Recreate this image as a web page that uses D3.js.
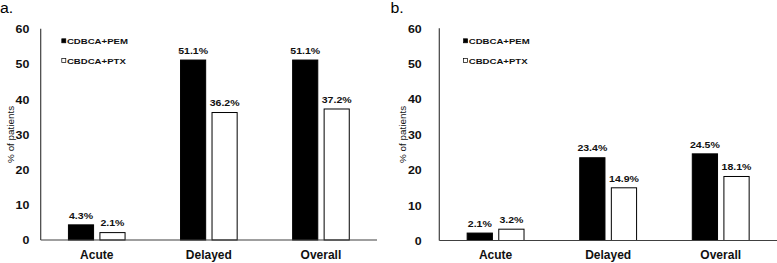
<!DOCTYPE html>
<html>
<head>
<meta charset="utf-8">
<script src="https://cdn.jsdelivr.net/npm/d3@7"></script>
<style>
  body { margin: 0; background: #fff; }
  svg { display: block; font-family: "Liberation Sans", Arial, sans-serif; }
</style>
</head>
<body>
<div id="chart"></div>
<script>
// data
const categories = ["Acute", "Delayed", "Overall"];
const seriesNames = ["CDBCA+PEM", "CBDCA+PTX"];
const panelLetters = ["a.", "b."];
const panelA_PEM = [4.3, 51.1, 51.1];
const panelA_PTX = [2.1, 36.2, 37.2];
const panelB_PEM = [2.1, 23.4, 24.5];
const panelB_PTX = [3.2, 14.9, 18.1];
const yTicks = [0, 10, 20, 30, 40, 50, 60];
const yLabel = "% of patients";

const width = 777, height = 263;

const svg = d3.select("#chart").append("svg")
  .attr("width", width)
  .attr("height", height);

// text helper: the source image is a little stretched sideways
function stretchText(sel, x, y, sx) {
  return sel.attr("x", 0).attr("y", 0)
    .attr("transform", `translate(${x},${y}) scale(${sx},1)`);
}

const panels = [
  { letter: panelLetters[0], pem: panelA_PEM, ptx: panelA_PTX,
    left: 40.7, right: 377, top: 28.7, bottom: 240,
    letterX: 0, tickX: 29.3, legendX: 61.5, yLabelX: 13.5 },
  { letter: panelLetters[1], pem: panelB_PEM, ptx: panelB_PTX,
    left: 439.3, right: 777, top: 28.3, bottom: 240.5,
    letterX: 390.5, tickX: 421.7, legendX: 463.3, yLabelX: 405.5 }
];

panels.forEach(p => {
  const g = svg.append("g");

  const y = d3.scaleLinear().domain([0, 60]).range([p.bottom, p.top]);
  const x0 = d3.scaleBand().domain(categories)
    .range([p.left, p.right])
    .paddingInner(0.486)
    .paddingOuter(0.243);
  const x1 = d3.scaleBand().domain(seriesNames)
    .range([0, x0.bandwidth()])
    .paddingInner(0.17);

  // panel letter
  stretchText(g.append("text"), p.letterX, 12.8, 1.06)
    .attr("font-size", 15)
    .attr("fill", "#000")
    .text(p.letter);

  // y tick labels (no tick marks, no gridlines)
  g.append("g").selectAll("text")
    .data(yTicks)
    .join("text")
    .each(function(d) {
      stretchText(d3.select(this), p.tickX, y(d) + 4.4, 1.15);
    })
    .attr("text-anchor", "end")
    .attr("font-size", 10.8)
    .attr("font-weight", "bold")
    .attr("fill", "#111")
    .text(d => d);

  // y axis title
  g.append("text")
    .attr("transform", `translate(${p.yLabelX},${(p.top + p.bottom) / 2}) rotate(-90)`)
    .attr("text-anchor", "middle")
    .attr("font-size", 9.9)
    .attr("fill", "#111")
    .text(yLabel);

  // bars
  const rows = categories.map((c, i) => ({ cat: c, vals: [p.pem[i], p.ptx[i]] }));
  const grp = g.append("g").selectAll("g")
    .data(rows)
    .join("g")
    .attr("transform", d => `translate(${x0(d.cat)},0)`);

  grp.selectAll("rect")
    .data(d => d.vals.map((v, i) => ({ key: seriesNames[i], v: v, i: i })))
    .join("rect")
    .attr("x", d => x1(d.key) + 0.5)
    .attr("y", d => y(d.v))
    .attr("width", x1.bandwidth() - 1)
    .attr("height", d => y(0) - y(d.v))
    .attr("fill", d => d.i === 0 ? "#000" : "#fff")
    .attr("stroke", "#000")
    .attr("stroke-width", 1);

  grp.selectAll("text")
    .data(d => d.vals.map((v, i) => ({ key: seriesNames[i], v: v })))
    .join("text")
    .each(function(d) {
      stretchText(d3.select(this), x1(d.key) + x1.bandwidth() / 2, y(d.v) - 6.3, 1.11);
    })
    .attr("text-anchor", "middle")
    .attr("font-size", 9.5)
    .attr("font-weight", "bold")
    .attr("fill", "#111")
    .text(d => d.v.toFixed(1) + "%");

  // axis lines
  g.append("line")
    .attr("x1", p.left).attr("x2", p.left)
    .attr("y1", p.top).attr("y2", p.bottom)
    .attr("stroke", "#404040").attr("stroke-width", 1.2);
  g.append("line")
    .attr("x1", p.left).attr("x2", p.right)
    .attr("y1", p.bottom).attr("y2", p.bottom)
    .attr("stroke", "#404040").attr("stroke-width", 1.2);

  // category labels
  g.append("g").selectAll("text")
    .data(categories)
    .join("text")
    .attr("x", d => x0(d) + x0.bandwidth() / 2)
    .attr("y", 259.3)
    .attr("text-anchor", "middle")
    .attr("font-size", 12)
    .attr("font-weight", "bold")
    .attr("fill", "#111")
    .text(d => d);

  // legend
  const leg = g.append("g").selectAll("g")
    .data(seriesNames)
    .join("g")
    .attr("transform", (d, i) => `translate(${p.legendX},${41 + i * 19.7})`);
  leg.append("rect")
    .attr("x", 0.3).attr("y", -2.2)
    .attr("width", 4).attr("height", 4)
    .attr("fill", (d, i) => i === 0 ? "#000" : "#fff")
    .attr("stroke", "#000")
    .attr("stroke-width", 0.7);
  leg.append("text")
    .each(function() { stretchText(d3.select(this), 5.4, 2.9, 1.2); })
    .attr("font-size", 8)
    .attr("font-weight", "bold")
    .attr("fill", "#111")
    .text(d => d);
});
</script>
</body>
</html>
